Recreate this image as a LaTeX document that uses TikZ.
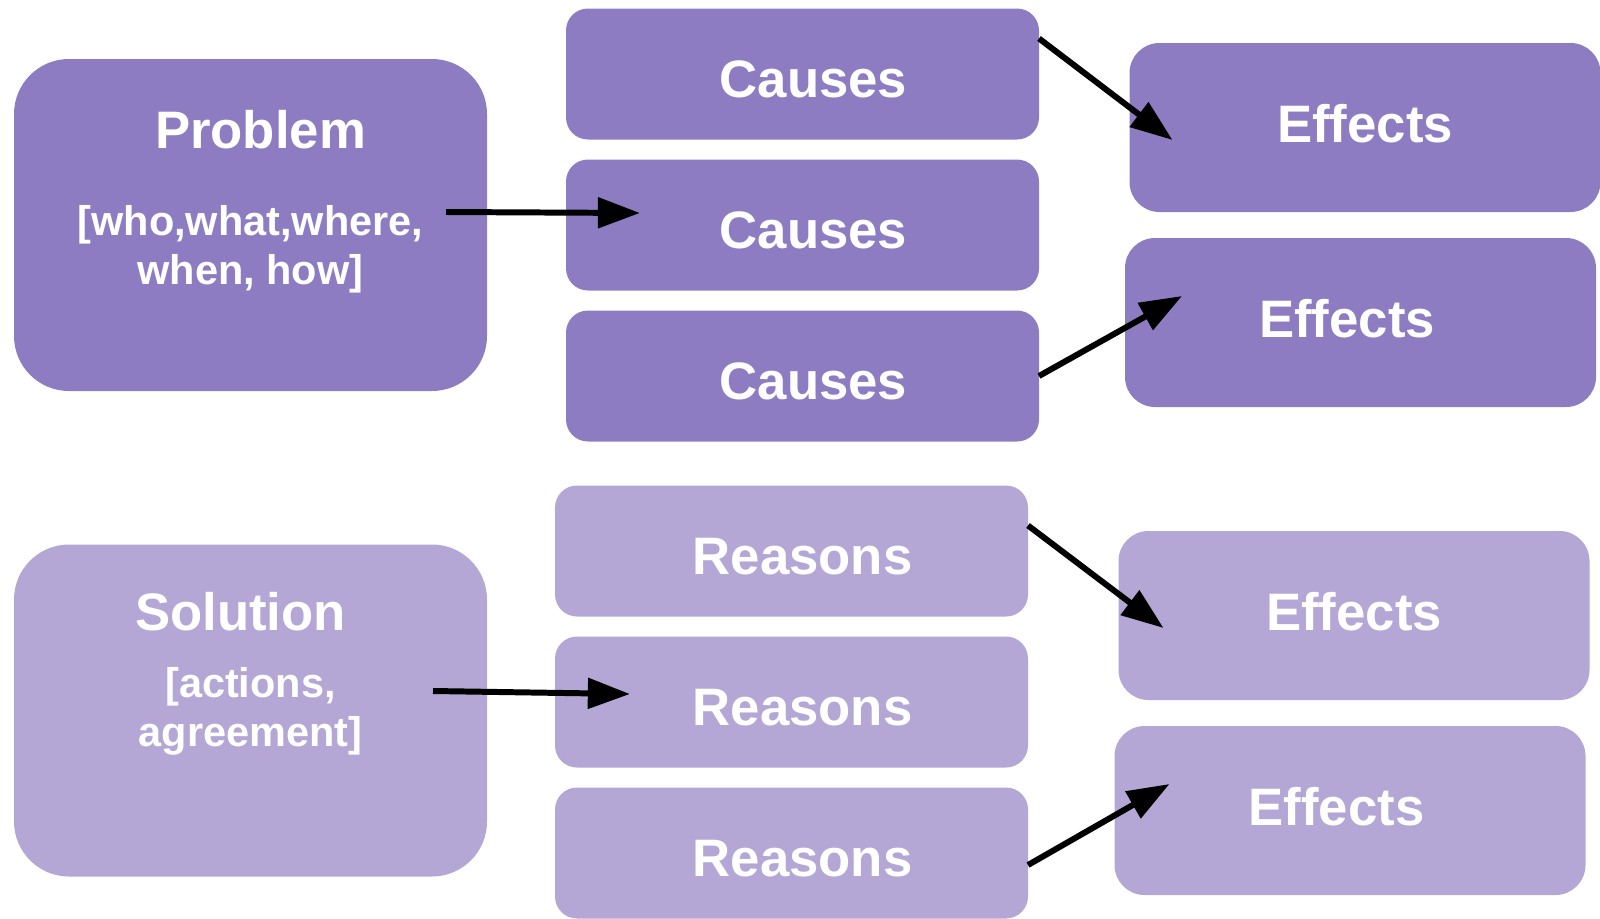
\documentclass[tikz,border=0pt]{standalone}
\usepackage{fontspec}
\setmainfont{Liberation Sans}
\usetikzlibrary{arrows.meta,positioning}
\definecolor{darkpurple}{HTML}{8E7CC3}
\definecolor{lightpurple}{HTML}{B4A7D6}
\newcommand{\subtxt}{\fontsize{11.8}{14}\selectfont}

\begin{document}
\begin{tikzpicture}[node distance=0.2cm, >={Triangle[length=12pt,width=8.5pt]}, line width=1.7pt,
    base/.style={rectangle, text=white, inner sep=0pt, outer sep=0pt, align=center, font=\bfseries\fontsize{15}{18}\selectfont},
    box/.style={base, rounded corners=0.22cm, minimum width=4.73cm, minimum height=1.31cm,
      text height=0.46cm, text depth=0pt, execute at begin node={\hspace*{0.22cm}}},
    big/.style={base, rounded corners=0.55cm, minimum width=4.73cm, minimum height=3.32cm},
    effbox/.style={base, rounded corners=0.3cm, minimum width=4.71cm, minimum height=1.69cm,
      text height=0.30cm, text depth=0pt},
    lft/.style={execute at begin node={\hspace*{-0.27cm}}},
    dark/.style={fill=darkpurple}, light/.style={fill=lightpurple}]
    \useasboundingbox (0,0) rectangle (16,-9.18);

    % problem side
    \node[big, dark] (prob) at (2.505,-2.25) {\hspace*{0.2cm}Problem\\[6.7pt]{\subtxt [who,what,where,}\\[-4pt]{\subtxt when, how]}\rule[-0.55cm]{0pt}{0.55cm}};
    \node[box, dark] (c1) at (8.025,-0.74) {Causes};
    \node[box, dark, below=of c1] (c2) {Causes};
    \node[box, dark, below=of c2] (c3) {Causes};
    \node[effbox, dark] (e1) at (13.65,-1.275) {Effects};
    \node[effbox, dark, lft] (e2) at (13.605,-3.225) {Effects};

    % solution side
    \node[big, light] (sol) at (2.505,-7.105) {\hspace*{-0.2cm}Solution\\[1pt]{\subtxt [actions,}\\[-4pt]{\subtxt agreement]}\rule[-0.82cm]{0pt}{0.82cm}};
    \node[box, light] (r1) at (7.915,-5.51) {Reasons};
    \node[box, light, below=of r1] (r2) {Reasons};
    \node[box, light, below=of r2] (r3) {Reasons};
    \node[effbox, light] (e3) at (13.54,-6.155) {Effects};
    \node[effbox, light, lft] (e4) at (13.50,-8.105) {Effects};

    \draw[->] ([xshift=-0.41cm,yshift=0.13cm]prob.east) -- ([xshift=0.74cm,yshift=0.12cm]c2.west);
    \draw[->] ([yshift=-0.3cm]c1.north east) -- ([xshift=0.43cm,yshift=-0.125cm]e1.west);
    \draw[->] (c3.east) -- ([xshift=0.57cm,yshift=0.265cm]e2.west);
    \draw[->] ([xshift=-0.54cm,yshift=0.195cm]sol.east) -- ([xshift=0.75cm,yshift=0.08cm]r2.west);
    \draw[->] ([yshift=-0.4cm]r1.north east) -- ([xshift=0.45cm,yshift=-0.125cm]e3.west);
    \draw[->] ([yshift=-0.12cm]r3.east) -- ([xshift=0.55cm,yshift=0.265cm]e4.west);
\end{tikzpicture}
\end{document}
